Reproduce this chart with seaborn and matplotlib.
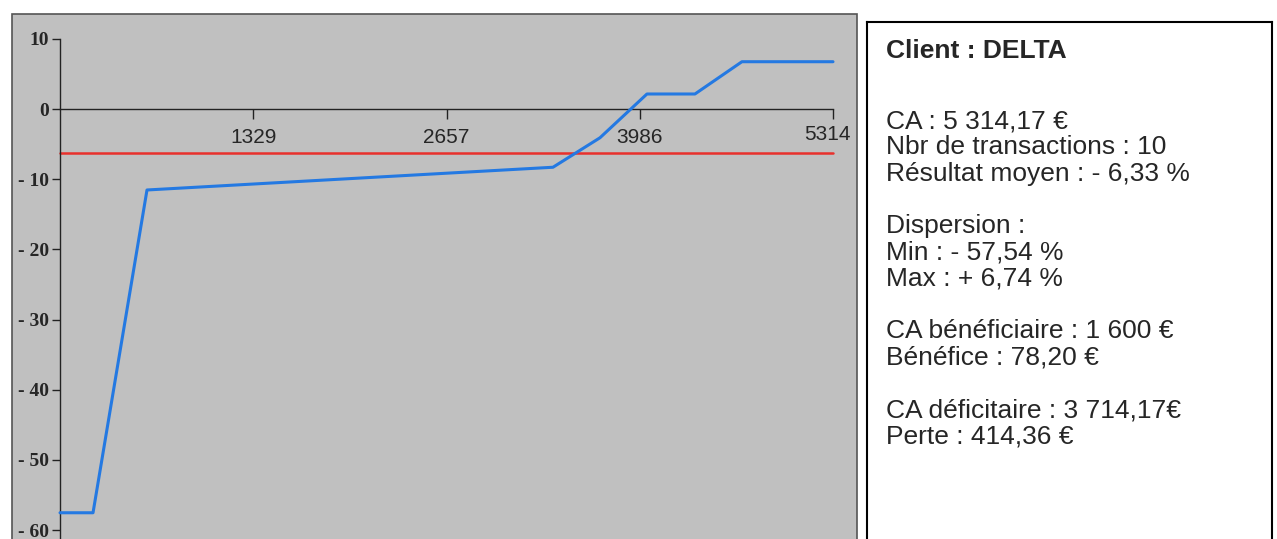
import matplotlib
matplotlib.use('Agg')
import matplotlib.pyplot as plt
import matplotlib.transforms as mtransforms
import seaborn as sns
import pandas as pd

# cumulative CA (x) vs result % (y)
ca_cumul = [0, 227, 598, 3389, 3712, 4035, 4365, 4688, 5314]
resultat = [-57.54, -57.54, -11.54, -8.3, -4.1, 2.14, 2.14, 6.74, 6.74]
resultat_moyen = -6.33
x_ticks = [1329, 2657, 3986, 5314]
y_ticks = [10, 0, -10, -20, -30, -40, -50, -60]

titre = 'Client : DELTA'
lignes = [
    'CA : 5 314,17 €',
    'Nbr de transactions : 10',
    'Résultat moyen : - 6,33 %',
    '',
    'Dispersion :',
    'Min : - 57,54 %',
    'Max : + 6,74 %',
    '',
    'CA bénéficiaire : 1 600 €',
    'Bénéfice : 78,20 €',
    '',
    'CA déficitaire : 3 714,17€',
    'Perte : 414,36 €',
]

W, H = 1277, 539
sns.set_style('white')
plt.rcParams['font.family'] = ['Liberation Sans', 'DejaVu Sans']
fig = plt.figure(figsize=(W / 100, H / 100), dpi=100)

# left panel (grey)
ax = fig.add_axes([12 / W, 0, (857 - 12) / W, (539 - 14) / H])
ax.set_facecolor('#c0c0c0')
ax.set_xlim(-330, 5479)
ax.set_ylim(-61.28, 13.54)

df = pd.DataFrame({'ca': ca_cumul, 'res': resultat})
sns.lineplot(data=df, x='ca', y='res', sort=False, estimator=None,
             color='#2479e2', linewidth=2.2, ax=ax, zorder=3)
ax.plot([0, x_ticks[-1]], [resultat_moyen, resultat_moyen],
        color='#e8302c', linewidth=1.8, zorder=2)

for s in ['top', 'right']:
    ax.spines[s].set_visible(False)
ax.spines['left'].set_position(('data', 0))
ax.spines['left'].set_bounds(-61.28, 10)
ax.spines['bottom'].set_position(('data', 0))
ax.spines['bottom'].set_bounds(0, x_ticks[-1])
for s in ['left', 'bottom']:
    ax.spines[s].set_color('#222222')
    ax.spines[s].set_linewidth(1.0)

ax.set_yticks(y_ticks)
ax.set_yticklabels([str(v) if v >= 0 else '- ' + str(-v) for v in y_ticks],
                   family='Liberation Serif', fontweight='bold', fontsize=14)
ax.set_xticks(x_ticks)
ax.set_xticklabels([str(v) for v in x_ticks], fontsize=15)
ax.tick_params(axis='y', direction='out', length=6, width=1, color='#222222', pad=2, left=True)
ax.tick_params(axis='x', direction='out', length=7, width=1, color='#222222', pad=7, bottom=True)
# last label is pulled back inside the panel and a bit up
last = ax.get_xticklabels()[-1]
last.set_transform(last.get_transform() +
                   mtransforms.ScaledTranslation(-0.06, 0.03, fig.dpi_scale_trans))
ax.set_xlabel('')
ax.set_ylabel('')

# panel frame
ax.add_patch(plt.Rectangle((0, -0.2), 1, 1.2, transform=ax.transAxes, fill=False,
                           edgecolor='#555555', linewidth=1.2, clip_on=False, zorder=5))

# right text box
bx = fig.add_axes([867 / W, 0, (1272 - 867) / W, (539 - 22) / H])
bx.set_xlim(0, 1272 - 867)
bx.set_ylim(539 - 22, 0)
bx.set_xticks([])
bx.set_yticks([])
bx.spines['bottom'].set_visible(False)
for s in ['top', 'left', 'right']:
    bx.spines[s].set_color('black')
    bx.spines[s].set_linewidth(1.5)

bx.text(19, 51 - 22, titre, fontsize=19, fontweight='bold', va='center', ha='left')
for i, txt in enumerate(lignes):
    if txt:
        bx.text(19, 121 - 22 + i * 26.3, txt, fontsize=19, va='center', ha='left')

fig.savefig('out.png', dpi=100)
